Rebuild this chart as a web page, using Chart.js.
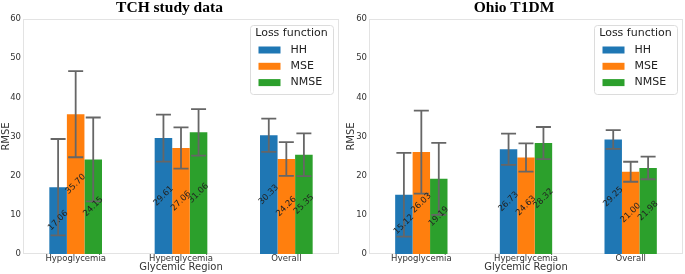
<!DOCTYPE html>
<html lang="en">
<head>
<meta charset="UTF-8">
<title>RMSE by glycemic region</title>
<style>
  body { margin: 0; background: #fff; }
  .box { position: absolute; top: 0; height: 274px; }
</style>
</head>
<body>

<div class="box" style="left: 0; width: 345px;"><canvas id="chartTCH" width="345" height="274"></canvas></div>
<div class="box" style="left: 345px; width: 340px;"><canvas id="chartOhio" width="340" height="274"></canvas></div>

<script src="https://cdn.jsdelivr.net/npm/chart.js"></script>
<script>
// data
const regions = ['Hypoglycemia', 'Hyperglycemia', 'Overall'];
const lossNames = ['HH', 'MSE', 'NMSE'];
const lossColors = ['#1f77b4', '#ff7f0e', '#2ca02c'];

// TCH study data (mean RMSE, +/- error bar)
const tchHH = [17.06, 29.61, 30.33];
const tchMSE = [35.70, 27.06, 24.26];
const tchNMSE = [24.15, 31.06, 25.35];
const tchHHErr = [12.3, 6.0, 4.25];
const tchMSEErr = [11.0, 5.25, 4.3];
const tchNMSEErr = [10.7, 5.95, 5.45];

// Ohio T1DM
const ohioHH = [15.12, 26.73, 29.25];
const ohioMSE = [26.03, 24.63, 21.00];
const ohioNMSE = [19.19, 28.32, 21.98];
const ohioHHErr = [10.7, 4.0, 2.4];
const ohioMSEErr = [10.6, 3.6, 2.55];
const ohioNMSEErr = [9.2, 4.1, 2.9];

Chart.defaults.font.family = 'DejaVu Sans';
Chart.defaults.color = '#333';

// light grey frame around the plot area
const framePlugin = {
    id: 'frame',
    beforeDatasetsDraw(chart) {
        const a = chart.chartArea;
        const ctx = chart.ctx;
        ctx.save();
        ctx.strokeStyle = '#e3e3e3';
        ctx.lineWidth = 1;
        ctx.strokeRect(a.left + 0.5, a.top + 0.5, a.right - a.left - 1, a.bottom - a.top - 1);
        ctx.restore();
    }
};

// error bars + rotated value labels
const barExtras = {
    id: 'barExtras',
    afterDatasetsDraw(chart) {
        const ctx = chart.ctx;
        const yScale = chart.scales.y;
        ctx.save();
        ctx.strokeStyle = '#666';
        ctx.lineWidth = 1.8;
        chart.data.datasets.forEach((ds, i) => {
            chart.getDatasetMeta(i).data.forEach((bar, j) => {
                const v = ds.data[j], e = ds.errors[j];
                const yt = yScale.getPixelForValue(v + e);
                const yb = yScale.getPixelForValue(v - e);
                ctx.beginPath();
                ctx.moveTo(bar.x, yt); ctx.lineTo(bar.x, yb);
                ctx.moveTo(bar.x - 7.5, yt); ctx.lineTo(bar.x + 7.5, yt);
                ctx.moveTo(bar.x - 7.5, yb); ctx.lineTo(bar.x + 7.5, yb);
                ctx.stroke();
            });
        });
        ctx.fillStyle = '#222';
        ctx.font = '8.5px "DejaVu Sans"';
        ctx.textAlign = 'center';
        ctx.textBaseline = 'middle';
        chart.data.datasets.forEach((ds, i) => {
            chart.getDatasetMeta(i).data.forEach((bar, j) => {
                const v = ds.data[j];
                ctx.save();
                ctx.translate(bar.x, yScale.getPixelForValue(v / 2));
                ctx.rotate(-Math.PI / 4);
                ctx.fillText(v.toFixed(2), 0, 0);
                ctx.restore();
            });
        });
        ctx.restore();
    }
};

// legend box inside the upper right corner
const innerLegend = {
    id: 'innerLegend',
    afterDraw(chart) {
        const a = chart.chartArea;
        const ctx = chart.ctx;
        const w = 83, h = 69;
        const x0 = a.right - 6 - w, y0 = a.top + 6;
        ctx.save();
        ctx.fillStyle = 'rgba(255,255,255,0.8)';
        ctx.strokeStyle = '#dcdcdc';
        ctx.lineWidth = 1;
        ctx.beginPath();
        ctx.roundRect(x0 + 0.5, y0 + 0.5, w, h, 3);
        ctx.fill();
        ctx.stroke();
        ctx.fillStyle = '#222';
        ctx.font = '11px "DejaVu Sans"';
        ctx.textBaseline = 'middle';
        ctx.textAlign = 'center';
        ctx.fillText('Loss function', x0 + w / 2, y0 + 8.5);
        ctx.textAlign = 'left';
        chart.data.datasets.forEach((ds, i) => {
            const yc = y0 + 25 + i * 16.3;
            ctx.fillStyle = ds.backgroundColor;
            ctx.fillRect(x0 + 8.5, yc - 3.5, 22, 7);
            ctx.fillStyle = '#222';
            ctx.fillText(ds.label, x0 + 40.5, yc);
        });
        ctx.restore();
    }
};

function makeChart(id, title, hh, mse, nmse, hhErr, mseErr, nmseErr, yWidth, rightPad) {
    const values = [hh, mse, nmse];
    const errs = [hhErr, mseErr, nmseErr];
    return new Chart(document.getElementById(id), {
        type: 'bar',
        data: {
            labels: regions,
            datasets: lossNames.map((name, i) => ({
                label: name,
                data: values[i],
                errors: errs[i],
                backgroundColor: lossColors[i],
                borderWidth: 0,
                categoryPercentage: 0.5,
                barPercentage: 1.0
            }))
        },
        options: {
            responsive: false,
            animation: false,
            layout: { padding: { top: 0.5, right: rightPad, bottom: 0, left: 0 } },
            plugins: {
                legend: { display: false },
                tooltip: { enabled: false },
                title: {
                    display: true,
                    text: title,
                    color: '#000',
                    font: { family: 'Liberation Serif', size: 15.5, weight: 'bold', lineHeight: 1 },
                    padding: { top: 0, bottom: 3 }
                }
            },
            scales: {
                x: {
                    grid: { display: false, drawTicks: false },
                    border: { display: false },
                    ticks: { font: { size: 8.5 }, padding: 0, maxRotation: 0 },
                    title: {
                        display: true,
                        text: 'Glycemic Region',
                        font: { size: 10 },
                        padding: { top: 0, bottom: 0.5 }
                    },
                    afterFit(scale) { scale.height = 20; }
                },
                y: {
                    min: 0,
                    max: 60,
                    grid: { display: false, drawTicks: false },
                    border: { display: false },
                    ticks: { stepSize: 10, font: { size: 8.5 }, padding: 2 },
                    title: {
                        display: true,
                        text: 'RMSE',
                        font: { size: 10 },
                        padding: { top: 0, bottom: 0 }
                    },
                    afterFit(scale) { scale.width = yWidth; }
                }
            }
        },
        plugins: [framePlugin, barExtras, innerLegend]
    });
}

makeChart('chartTCH', 'TCH study data', tchHH, tchMSE, tchNMSE, tchHHErr, tchMSEErr, tchNMSEErr, 23, 6);
makeChart('chartOhio', 'Ohio T1DM', ohioHH, ohioMSE, ohioNMSE, ohioHHErr, ohioMSEErr, ohioNMSEErr, 24, 2);
</script>
</body>
</html>
